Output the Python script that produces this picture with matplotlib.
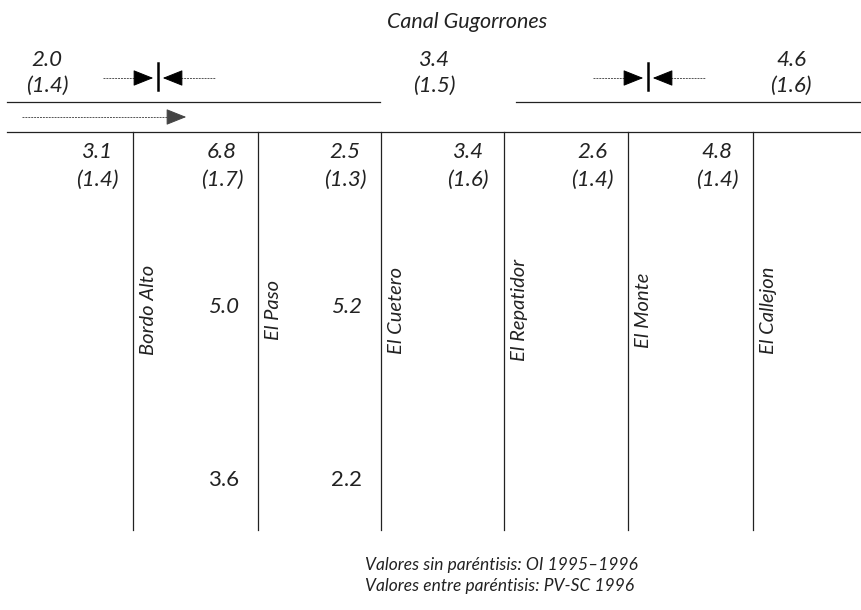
import matplotlib.pyplot as plt

# Lateral channels along Canal Gugorrones
laterals = ["Bordo Alto", "El Paso", "El Cuetero", "El Repatidor", "El Monte", "El Callejon"]

# values at the head of each lateral (OI 1995-1996) and in brackets (PV-SC 1996)
head_oi = ["3.1", "6.8", "2.5", "3.4", "2.6", "4.8"]
head_pv = ["1.4", "1.7", "1.3", "1.6", "1.4", "1.4"]

# values further down the first laterals
mid_oi = ["5.0", "5.2"]
low_oi = ["3.6", "2.2"]

# values along the main canal
canal_oi = ["2.0", "3.4", "4.6"]
canal_pv = ["1.4", "1.5", "1.6"]

FONT = "Lato"
ink = "#222222"
head = "-|>,head_length=0.8,head_width=0.32"

fig = plt.figure(figsize=(8.62, 6.10), dpi=100)
ax = fig.add_axes([0, 0, 1, 1])
ax.set_xlim(0, 862)
ax.set_ylim(610, 0)
ax.axis("off")

# schematic layout (pixels)
canal_top, canal_bot = 102, 132
lat_x = [133, 258, 381, 504, 628, 753]
lat_end = 530
canal_lbl_x = [47, 434, 791]
gate_x = [158, 648]

ax.text(467, 22, "Canal Gugorrones", family=FONT, style="italic", fontsize=15.5,
        ha="center", va="center", color=ink)

# canal banks
ax.plot([7, 380], [canal_top, canal_top], color=ink, lw=0.9)
ax.plot([516, 862], [canal_top, canal_top], color=ink, lw=0.9)
ax.plot([7, 862], [canal_bot, canal_bot], color=ink, lw=0.9)

# flow direction
ax.plot([22, 178], [117, 117], color="#555555", lw=0.7, ls=(0, (2, 1)))
ax.annotate("", xy=(189, 117), xytext=(175, 117),
            arrowprops=dict(arrowstyle=head, mutation_scale=16, color="#444444", lw=0.7))

# control gates
for gx in gate_x:
    ax.plot([gx, gx], [63, 90], color="black", lw=1.8)
    ax.plot([gx - 55, gx - 14], [78, 78], color="#555555", lw=0.7, ls=(0, (2, 1)))
    ax.plot([gx + 14, gx + 57], [78, 78], color="#555555", lw=0.7, ls=(0, (2, 1)))
    ax.annotate("", xy=(gx - 2, 78), xytext=(gx - 17, 78),
                arrowprops=dict(arrowstyle=head, mutation_scale=16, color="black", lw=0.7))
    ax.annotate("", xy=(gx + 2, 78), xytext=(gx + 17, 78),
                arrowprops=dict(arrowstyle=head, mutation_scale=16, color="black", lw=0.7))

# canal values
for x, oi, pv in zip(canal_lbl_x, canal_oi, canal_pv):
    ax.text(x, 60, oi, family=FONT, style="italic", fontsize=16, ha="center", va="center", color=ink)
    ax.text(x, 86, f"({pv})", family=FONT, style="italic", fontsize=16, ha="center", va="center", color=ink)

# laterals
for x, name, oi, pv in zip(lat_x, laterals, head_oi, head_pv):
    ax.plot([x, x], [canal_bot, lat_end], color=ink, lw=0.9)
    ax.text(x + 16, 310, name, family=FONT, style="italic", fontsize=14.5, rotation=90,
            ha="center", va="center", color=ink)
    ax.text(x - 36, 152, oi, family=FONT, style="italic", fontsize=16, ha="center", va="center", color=ink)
    ax.text(x - 36, 180, f"({pv})", family=FONT, style="italic", fontsize=16, ha="center", va="center", color=ink)

for x, m, l in zip(lat_x[1:3], mid_oi, low_oi):
    ax.text(x - 34, 307, m, family=FONT, style="italic", fontsize=16, ha="center", va="center", color=ink)
    ax.text(x - 34, 480, l, family=FONT, fontsize=16, ha="center", va="center", color=ink)

ax.text(365, 565, "Valores sin paréntisis: OI 1995\u20131996", family=FONT, style="italic",
        fontsize=12.5, ha="left", va="center", color=ink)
ax.text(365, 586, "Valores entre paréntisis: PV-SC 1996", family=FONT, style="italic",
        fontsize=12.5, ha="left", va="center", color=ink)

fig.savefig("out.png", dpi=100)
